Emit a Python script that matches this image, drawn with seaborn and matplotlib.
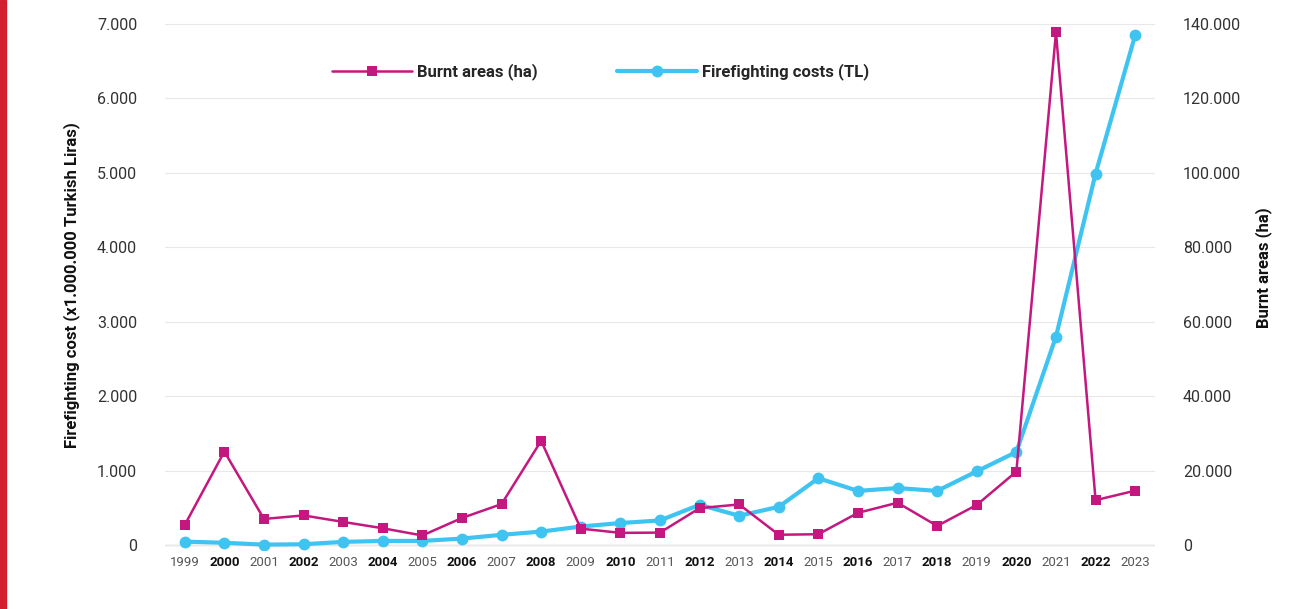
import numpy as np
import pandas as pd
import matplotlib
matplotlib.use("Agg")
import matplotlib.pyplot as plt
from matplotlib.ticker import FuncFormatter
from matplotlib.patches import Rectangle
import seaborn as sns

sns.set_style("white")
plt.rcParams["font.family"] = ["Roboto", "DejaVu Sans"]

# ─── Data ──────────────────────────────────────────────────────────────────
years = list(range(1999, 2024))
burnt_ha = [5400, 25100, 7000, 7950, 6200, 4500, 2560, 7260, 11000, 28000,
            4400, 3260, 3330, 9900, 10900, 2750, 2900, 8640, 11360, 5130,
            10770, 19740, 137800, 12050, 14600]
cost_mtl = [45, 30, 5, 10, 42, 55, 55, 86, 137, 180,
            248, 295, 330, 540, 393, 513, 897, 727, 765, 727,
            990, 1250, 2800, 4990, 6850]
left_ticks = [0, 1000, 2000, 3000, 4000, 5000, 6000, 7000]
right_ticks = [0, 20000, 40000, 60000, 80000, 100000, 120000, 140000]

df = pd.DataFrame({"year": years, "burnt": burnt_ha, "cost": cost_mtl})

MAGENTA = "#c4177f"
CYAN = "#3fc4f2"

fig = plt.figure(figsize=(13.03, 6.09), dpi=100)
ax = fig.add_axes([0.1266, 0.0969, 0.7598, 0.8703])
ax2 = ax.twinx()

# Firefighting cost on the left axis, burnt area on the right axis
sns.lineplot(data=df, x="year", y="cost", ax=ax, color=CYAN, linewidth=3,
             marker="o", markersize=8.5, markeredgewidth=0, legend=False)
sns.lineplot(data=df, x="year", y="burnt", ax=ax2, color=MAGENTA, linewidth=1.8,
             marker="s", markersize=7, markeredgewidth=0, legend=False)

ax.set_xlim(1998.5, 2023.5)
ax.set_ylim(-67, 7054)
ax2.set_ylim(-1340, 141080)

dot_fmt = FuncFormatter(lambda v, _: f"{int(v):,}".replace(",", "."))
ax.set_yticks(left_ticks)
ax2.set_yticks(right_ticks)
ax.yaxis.set_major_formatter(dot_fmt)
ax2.yaxis.set_major_formatter(dot_fmt)

for a in (ax, ax2):
    for s in a.spines.values():
        s.set_visible(False)
ax.tick_params(axis="y", length=0, pad=20, labelsize=11.5, labelcolor="#333333")
ax2.tick_params(axis="y", length=0, pad=20, labelsize=11.5, labelcolor="#333333")
ax.tick_params(axis="x", length=0, pad=4, labelsize=9.5)

ax.set_xticks(years)
ax.set_xticklabels([str(y) for y in years])
for lbl, y in zip(ax.get_xticklabels(), years):
    if y % 2 == 0:
        lbl.set_fontweight("bold")
        lbl.set_color("#111111")
    else:
        lbl.set_color("#555555")

ax.grid(axis="y", color="#e8e8e8", linewidth=0.8)
ax.set_axisbelow(True)
ax.axhline(0, color="#cccccc", linewidth=1, zorder=0)

ax.set_xlabel("")
ax.set_ylabel("Firefighting cost (x1.000.000 Turkish Liras)", fontsize=12,
              fontweight="bold", color="#111111", labelpad=12)
ax2.set_ylabel("Burnt areas (ha)", fontsize=12, fontweight="bold",
               color="#111111")
ax2.yaxis.set_label_coords(1.101, 0.532)

# Combined legend across the top
h_cost = ax.get_lines()[0]
h_burnt = ax2.get_lines()[0]
fig.legend([h_burnt, h_cost], ["Burnt areas (ha)", "Firefighting costs (TL)"],
           loc="center", bbox_to_anchor=(0.461, 0.882), ncol=2, frameon=False,
           handlelength=4.8, columnspacing=4.8, handletextpad=0.3,
           prop={"weight": "bold", "size": 12})

# Red accent bar on the left edge
fig.patches.append(Rectangle((0, 0), 0.0046, 1, transform=fig.transFigure,
                             color="#d3202e", zorder=10))

fig.savefig("out.png", dpi=100)
